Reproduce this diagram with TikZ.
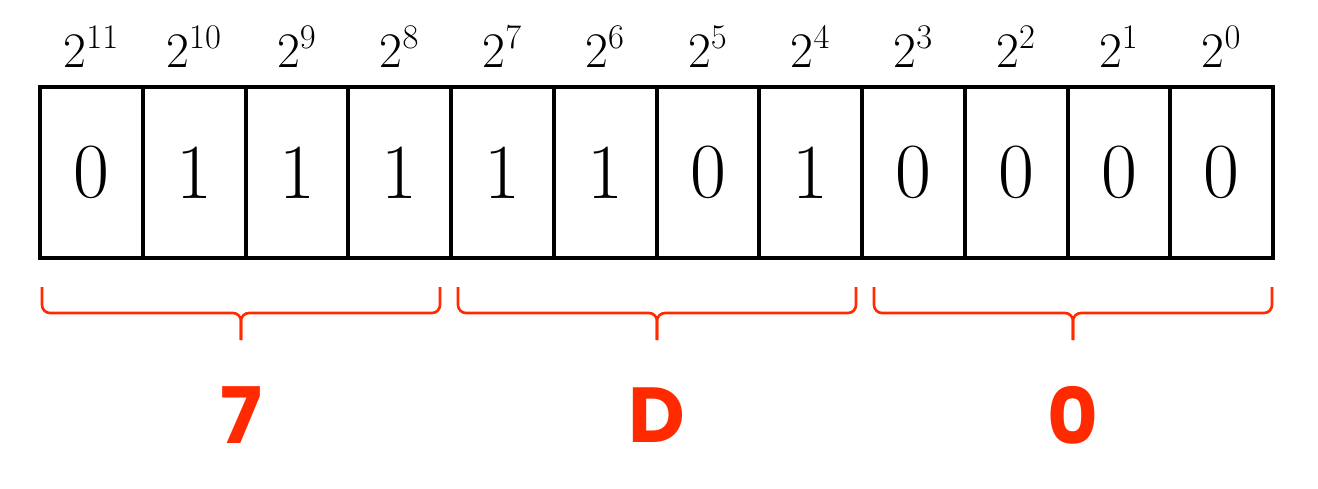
\documentclass[tikz,border=0pt]{standalone}
\usepackage{fontspec}
\newfontfamily\handfont{Poppins}
\usetikzlibrary{positioning}
\definecolor{hexred}{RGB}{255,42,0}
\tikzset{
  cell/.style={draw,line width=2pt,minimum width=51.375pt,minimum height=85.5pt,inner sep=0pt,font=\fontsize{39}{40}\selectfont},
  power/.style={anchor=base,inner sep=0pt,font=\fontsize{25}{26}\selectfont},
  bracepen/.style={hexred,line width=1.3pt,rounded corners=4pt},
  hexdigit/.style={hexred,inner sep=0pt,font=\handfont\bfseries\fontsize{39}{40}\selectfont}
}
\begin{document}
\begin{tikzpicture}[x=0.5pt,y=-0.5pt]
    \useasboundingbox (0,0) rectangle (1318,488);
    % bits with their place values
    \foreach \b [count=\i from 0] in {0,1,1,1,1,1,0,1,0,0,0,0} {
        \pgfmathtruncatemacro\e{11-\i}
        \node[cell] (c\e) at ({91.4+102.75*\i},172.5) {\b};
        \node[power] (p\e) at ([yshift=9pt]c\e.north) {$2^{\e}$};
    }
    
    % one brace and one hex digit per nibble
    \foreach \k/\h in {0/7,1/D,2/0} {
        \coordinate (bl\k) at ({42+416*\k},287);
        \coordinate (br\k) at ({440+416*\k},287);
        \coordinate (bm\k) at ({241+416*\k},313);
        \coordinate (bt\k) at ({241+416*\k},340);
        \draw[bracepen] (bl\k) |- (bm\k) -- (bt\k);
        \draw[bracepen] (br\k) |- (bm\k) -- (bt\k);
        \node[hexdigit] (h\k) at ({241+416*\k},415) {\h};
    }
    
\end{tikzpicture}
\end{document}
